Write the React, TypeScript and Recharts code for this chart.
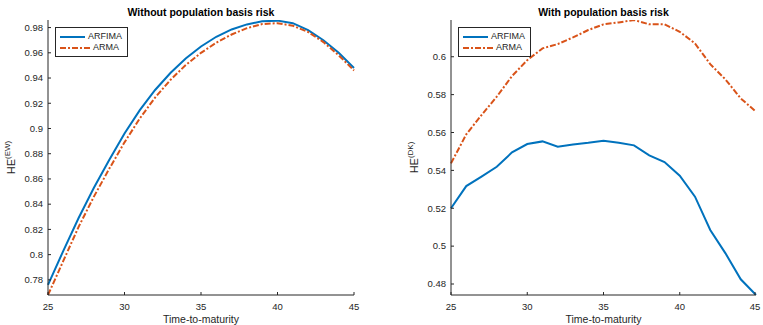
import { Label, Legend, Line, LineChart, XAxis, YAxis } from "recharts";

const years = [25, 26, 27, 28, 29, 30, 31, 32, 33, 34, 35, 36, 37, 38, 39, 40, 41, 42, 43, 44, 45];

// hedge effectiveness, no population basis risk
const ewArfima = [0.776, 0.803, 0.829, 0.853, 0.875, 0.896, 0.9145, 0.9305, 0.944, 0.9555, 0.965, 0.9727, 0.9785, 0.9825, 0.985, 0.9855, 0.9835, 0.978, 0.97, 0.96, 0.948];
const ewArma = [0.768, 0.795, 0.822, 0.846, 0.868, 0.889, 0.908, 0.9245, 0.9385, 0.9503, 0.96, 0.968, 0.9745, 0.9795, 0.9828, 0.9835, 0.9815, 0.9765, 0.9685, 0.958, 0.946];

// hedge effectiveness, with population basis risk
const dkArfima = [0.52, 0.5317, 0.5367, 0.5419, 0.5495, 0.5539, 0.5553, 0.5525, 0.5537, 0.5546, 0.5557, 0.5546, 0.5532, 0.5479, 0.5444, 0.5372, 0.5261, 0.5085, 0.4962, 0.4825, 0.4742];
const dkArma = [0.5437, 0.559, 0.5692, 0.5789, 0.5898, 0.5982, 0.6044, 0.6067, 0.6102, 0.6141, 0.6171, 0.6181, 0.6194, 0.6171, 0.6171, 0.6132, 0.607, 0.5961, 0.588, 0.578, 0.571];

const yearTicks = [25, 30, 35, 40, 45];
const ewTicks = [0.78, 0.8, 0.82, 0.84, 0.86, 0.88, 0.9, 0.92, 0.94, 0.96, 0.98];
const dkTicks = [0.48, 0.5, 0.52, 0.54, 0.56, 0.58, 0.6];

const seriesNames = ["ARFIMA", "ARMA"];

const BLUE = "#0072BD";
const ORANGE = "#D95319";
const AXIS = "#262626";
const FONT = "'Liberation Sans', Arial, Helvetica, sans-serif";
const DASHDOT = "6 2 2 2";

const fmt = (v: number) => String(Number(v.toFixed(2)));

// x ticks point up into the plot, labels sit below the axis line
function XTick({ x, y, payload }: any) {
  return (
    <g>
      <line x1={x} x2={x} y1={y} y2={y - 3} stroke={AXIS} strokeWidth={1} />
      <text x={x} y={y + 15} textAnchor="middle" fontSize={9.5} fill={AXIS} fontFamily={FONT}>
        {fmt(payload.value)}
      </text>
    </g>
  );
}

// y ticks point right into the plot
function YTick({ x, y, payload }: any) {
  return (
    <g>
      <line x1={x} x2={x + 3} y1={y} y2={y} stroke={AXIS} strokeWidth={1} />
      <text x={x - 5} y={y} dy="0.35em" textAnchor="end" fontSize={9.5} fill={AXIS} fontFamily={FONT}>
        {fmt(payload.value)}
      </text>
    </g>
  );
}

function LegendBox() {
  const styles = [
    { color: BLUE, dash: undefined },
    { color: ORANGE, dash: DASHDOT }
  ];
  return (
    <div style={{ border: `1px solid ${AXIS}`, background: "#fff", padding: "3px 5px 3px 4px", width: 62 }}>
      {seriesNames.map((name, i) => (
        <div key={name} style={{ display: "flex", alignItems: "center", height: 11 }}>
          <svg width={30} height={6} style={{ marginRight: 3 }}>
            <line x1={0} x2={30} y1={3} y2={3} stroke={styles[i].color} strokeWidth={2} strokeDasharray={styles[i].dash} />
          </svg>
          <span style={{ fontSize: 9, fontFamily: FONT, color: AXIS, lineHeight: "11px" }}>{name}</span>
        </div>
      ))}
    </div>
  );
}

type PanelProps = {
  title: string;
  sup: string;
  arfima: number[];
  arma: number[];
  domain: [number, number];
  ticks: number[];
  left: number;
  width: number;
  marginRight: number;
};

function Panel({ title, sup, arfima, arma, domain, ticks, left, width, marginRight }: PanelProps) {
  const rows = years.map((t, i) => ({ t, arfima: arfima[i], arma: arma[i] }));
  const plotW = width - 48 - marginRight;
  return (
    <div style={{ position: "absolute", left, top: 0, width, height: 325 }}>
      <div
        style={{
          position: "absolute",
          left: 48,
          top: 7,
          width: plotW,
          textAlign: "center",
          fontFamily: FONT,
          fontWeight: "bold",
          fontSize: 10.5,
          lineHeight: "11px",
          color: "#000",
          whiteSpace: "nowrap"
        }}
      >
        {title}
      </div>
      <LineChart width={width} height={325} data={rows} margin={{ top: 20, left: 0, right: marginRight, bottom: 0 }}>
        <XAxis
          dataKey="t"
          type="number"
          domain={[25, 45]}
          ticks={yearTicks}
          height={30}
          tickSize={0}
          tickMargin={0}
          tickLine={false}
          tick={XTick}
          axisLine={{ stroke: AXIS, strokeWidth: 1 }}
        >
          <Label
            content={({ viewBox }: any) => (
              <text x={viewBox.x + viewBox.width / 2} y={323} textAnchor="middle" fontSize={10.5} fill={AXIS} fontFamily={FONT}>
                Time-to-maturity
              </text>
            )}
          />
        </XAxis>
        <YAxis
          type="number"
          domain={domain}
          ticks={ticks}
          allowDataOverflow
          width={48}
          tickSize={0}
          tickMargin={0}
          tickLine={false}
          tick={YTick}
          axisLine={{ stroke: AXIS, strokeWidth: 1 }}
        >
          <Label
            content={({ viewBox }: any) => {
              const cx = 15;
              const cy = viewBox.y + viewBox.height / 2;
              return (
                <text
                  x={cx}
                  y={cy}
                  transform={`rotate(-90 ${cx} ${cy})`}
                  textAnchor="middle"
                  fontSize={11}
                  fill={AXIS}
                  fontFamily={FONT}
                >
                  HE
                  <tspan fontSize={8} dy={-5}>
                    {sup}
                  </tspan>
                </text>
              );
            }}
          />
        </YAxis>
        <Legend
          layout="horizontal"
          align="center"
          verticalAlign="middle"
          content={() => <LegendBox />}
          wrapperStyle={{ position: "absolute", left: 55, top: 27, width: "auto", height: "auto" }}
        />
        <Line
          type="linear"
          dataKey="arfima"
          name={seriesNames[0]}
          stroke={BLUE}
          strokeWidth={2}
          dot={false}
          isAnimationActive={false}
        />
        <Line
          type="linear"
          dataKey="arma"
          name={seriesNames[1]}
          stroke={ORANGE}
          strokeWidth={2}
          strokeDasharray={DASHDOT}
          dot={false}
          isAnimationActive={false}
        />
      </LineChart>
    </div>
  );
}

export default function App() {
  return (
    <div style={{ position: "absolute", left: 0, top: 0, width: 763, height: 325, background: "#fff", overflow: "hidden" }}>
      <Panel
        title="Without population basis risk"
        sup="(EW)"
        arfima={ewArfima}
        arma={ewArma}
        domain={[0.768, 0.986]}
        ticks={ewTicks}
        left={0}
        width={380}
        marginRight={26}
      />
      <Panel
        title="With population basis risk"
        sup="(DK)"
        arfima={dkArfima}
        arma={dkArma}
        domain={[0.4742, 0.6194]}
        ticks={dkTicks}
        left={403}
        width={360}
        marginRight={7}
      />
    </div>
  );
}
